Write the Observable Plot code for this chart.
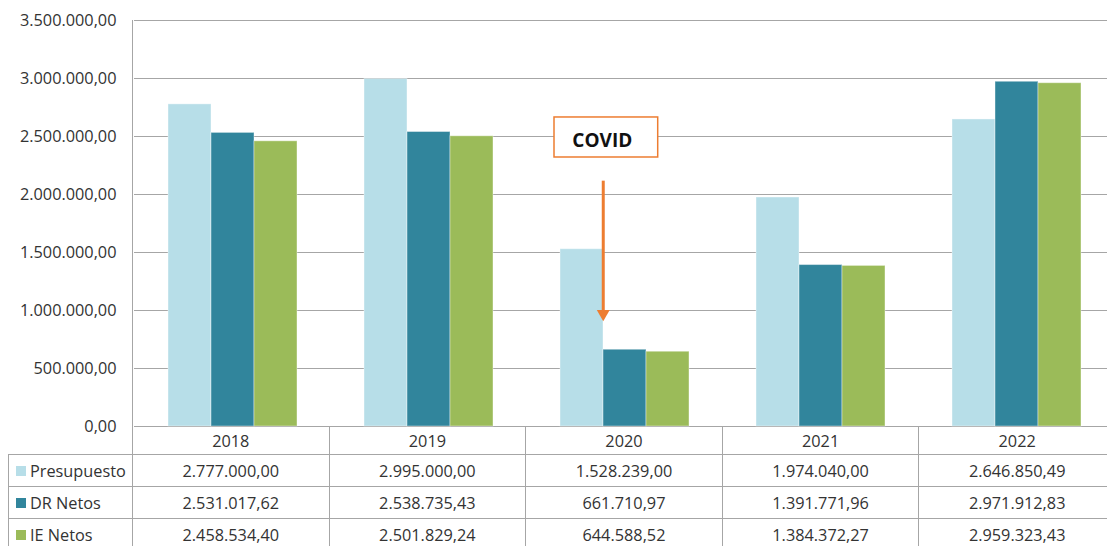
<!DOCTYPE html>
<html>
<head>
<meta charset="utf-8">
<script src="https://cdn.jsdelivr.net/npm/d3@7"></script>
<script src="https://cdn.jsdelivr.net/npm/@observablehq/plot@0.6"></script>
<style>
  body { margin: 0; background: #fff; overflow: hidden; font-family: "Open Sans", sans-serif; }
  #wrap { position: relative; width: 1115px; height: 546px; }
  #yline { position: absolute; left: 132px; top: 20px; width: 1px; height: 407px; background: #a6a6a6; }
  #table { position: absolute; left: 8px; top: 427px; display: grid;
           grid-template-columns: 125px repeat(5, 196.6px);
           grid-template-rows: 28px 32px 32px 32px; }
  .cell { box-sizing: border-box; border-right: 1px solid #a6a6a6; border-bottom: 1px solid #a6a6a6;
          display: flex; align-items: center; justify-content: center;
          font-size: 16.3px; color: #333; white-space: nowrap; }
  .lab { justify-content: flex-start; border-left: 1px solid #a6a6a6; padding-left: 7px; }
  .sw { width: 10px; height: 10px; margin-right: 4px; flex: none; }
</style>
</head>
<body>
<div id="wrap">
  <div id="chart"></div>
  <div id="yline"></div>
  <div id="table"></div>
</div>
<script>
const years = ["2018", "2019", "2020", "2021", "2022"];
const series = ["Presupuesto", "DR Netos", "IE Netos"];
const presupuesto = [2777000.00, 2995000.00, 1528239.00, 1974040.00, 2646850.49];
const drNetos = [2531017.62, 2538735.43, 661710.97, 1391771.96, 2971912.83];
const ieNetos = [2458534.40, 2501829.24, 644588.52, 1384372.27, 2959323.43];
const colors = ["#B7DEE8", "#31859C", "#9BBB59"];
const yTicks = [0, 500000, 1000000, 1500000, 2000000, 2500000, 3000000, 3500000];

// COVID annotation
const covidYear = "2020";
const covidText = "COVID";
const covidBoxRange = [2319000, 2664000];
const covidTextY = 2466000;
const covidArrowRange = [2115000, 972000];
const covidHeadY = 972000;

const orange = "#ED7D31";
const loc = d3.formatLocale({decimal: ",", thousands: ".", grouping: [3], currency: ["", ""]});
const fmt = loc.format(",.2f");

const seriesValues = [presupuesto, drNetos, ieNetos];
const rows = years.flatMap((yr, i) => series.map((s, j) => ({year: yr, series: s, value: seriesValues[j][i]})));
const covid = [{year: covidYear, at: "DR Netos", label: covidText}];

const chart = Plot.plot({
  width: 1115, height: 427,
  marginTop: 20, marginBottom: 1, marginLeft: 132, marginRight: 0,
  style: {fontFamily: '"Open Sans", sans-serif', fontSize: "16.3px", color: "#333", background: "transparent", overflow: "visible"},
  fx: {domain: years, paddingInner: 0, paddingOuter: 0, axis: null, label: null},
  x: {domain: series, paddingInner: 0, paddingOuter: 0.76, axis: null, label: null},
  y: {domain: [0, 3500000], ticks: yTicks, tickFormat: fmt, tickSize: 0, tickPadding: 18, label: null},
  color: {domain: series, range: colors},
  marks: [
    Plot.ruleY(yTicks, {stroke: "#a6a6a6", strokeWidth: 1}),
    Plot.barY(rows, {fx: "year", x: "series", y: "value", fill: "series", stroke: "#fff", strokeOpacity: 0.4}),
    Plot.barY(covid, {fx: "year", x: "at", y1: covidBoxRange[0], y2: covidBoxRange[1], fill: "#fff", stroke: orange, strokeWidth: 1.5, insetLeft: -49, insetRight: -11.7}),
    Plot.text(covid, {fx: "year", x: "at", y: covidTextY, text: "label", fontWeight: "bold", fontSize: 19, fill: "#111", dx: -22.7}),
    Plot.ruleX(covid, {fx: "year", x: "at", y1: covidArrowRange[0], y2: covidArrowRange[1], stroke: orange, strokeWidth: 3, dx: -21.75}),
    Plot.dot(covid, {fx: "year", x: "at", y: covidHeadY, symbol: "triangle", rotate: 180, r: 4.8, fill: orange, stroke: "none", dx: -21.75})
  ]
});
document.getElementById("chart").appendChild(chart);

// data table under the chart
const table = document.getElementById("table");
function cell(cls, content) {
  const d = document.createElement("div");
  d.className = "cell " + cls;
  if (typeof content === "string") d.textContent = content; else if (content) d.appendChild(content);
  table.appendChild(d);
  return d;
}
cell("blank", "");
years.forEach(y => cell("", y));
series.forEach((s, j) => {
  const frag = document.createElement("span");
  frag.style.display = "flex"; frag.style.alignItems = "center";
  const sw = document.createElement("span");
  sw.className = "sw"; sw.style.background = colors[j];
  frag.appendChild(sw);
  frag.appendChild(document.createTextNode(s));
  cell("lab", frag);
  seriesValues[j].forEach(v => cell("", fmt(v)));
});
</script>
</body>
</html>
